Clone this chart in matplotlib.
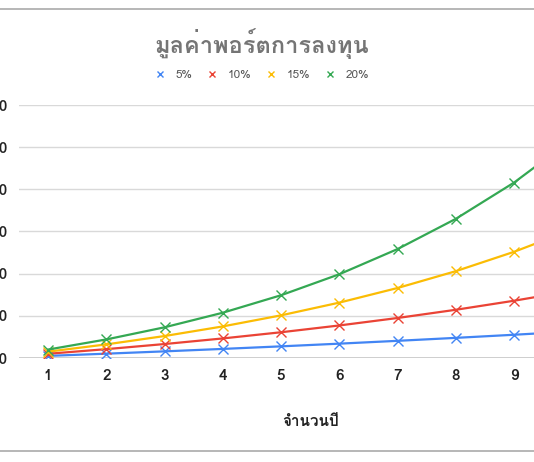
import matplotlib
matplotlib.use("Agg")
import matplotlib.pyplot as plt
from matplotlib import font_manager
from matplotlib.lines import Line2D
from fontTools.ttLib import TTFont

years = [1, 2, 3, 4, 5, 6, 7, 8, 9, 10]
rate_labels = ["5%", "10%", "15%", "20%"]
colors = ["#4285F4", "#EA4335", "#FBBC04", "#34A853"]

# portfolio value (start 100,000)
value_5 = [105000, 110250, 115760, 121550, 127630, 134010, 140710, 147750, 155130, 162890]
value_10 = [110000, 121000, 133100, 146410, 161050, 177160, 194870, 214360, 235790, 259370]
value_15 = [115000, 132250, 152090, 174900, 201140, 231310, 266000, 305900, 351790, 404560]
value_20 = [120000, 144000, 172800, 207360, 248830, 298600, 358320, 429980, 515980, 619170]
series = [value_5, value_10, value_15, value_20]

x_ticks = [1, 2, 3, 4, 5, 6, 7, 8, 9]
y_ticks = [100000, 200000, 300000, 400000, 500000, 600000, 700000]

title_text = "มูลค่าพอร์ตการลงทุน"
xlabel_text = "จำนวนปี"


def find_thai_font():
    # look for any installed font that has Thai glyphs
    for f in font_manager.fontManager.ttflist:
        try:
            cmap = TTFont(f.fname, fontNumber=0, lazy=True).getBestCmap()
        except Exception:
            continue
        if cmap and 0x0E21 in cmap and 0x0E38 in cmap:
            return f.name
    return None


thai = find_thai_font()
families = [thai, "DejaVu Sans"] if thai else ["DejaVu Sans"]
plt.rcParams["font.family"] = families

fig = plt.figure(figsize=(5.34, 4.62), dpi=100)
ax = fig.add_axes([18.9 / 534, 104 / 462, 582.5 / 534, 253 / 462])

for vals, c, lab in zip(series, colors, rate_labels):
    ax.plot(years, vals, color=c, lw=1.6, marker="x", ms=6.5, mew=1.0, label=lab, zorder=3)

ax.set_xlim(0.5, 10.5)
ax.set_ylim(100000, 700000)
ax.set_xticks(x_ticks)
ax.set_yticks(y_ticks)
ax.set_yticklabels([f"{v:,}" for v in y_ticks])
ax.grid(axis="y", color="#d9d9d9", lw=1)
ax.set_axisbelow(True)
for s in ax.spines.values():
    s.set_visible(False)
ax.axhline(100000, color="#c8c8c8", lw=1.2, zorder=2)
ax.tick_params(length=0, labelsize=11, labelcolor="#222222", pad=8)
for t in ax.get_xticklabels() + ax.get_yticklabels():
    t.set_fontweight("bold")

ax.set_xlabel(xlabel_text, fontsize=11, fontweight="bold", color="#222222", labelpad=23)

fig.text(0.49, 0.905, title_text, ha="center", va="center", fontsize=17,
         fontweight="bold", color="#757575")

leg = fig.legend(loc="center", bbox_to_anchor=(0.49, 0.838), ncol=4, frameon=False,
                 fontsize=8.5, handlelength=1.0, handletextpad=0.8, columnspacing=1.2,
                 markerscale=0.75, labelcolor="#555555")
for h in leg.legend_handles:
    h.set_linestyle("none")

# thin gray border lines at top and bottom
fig.add_artist(Line2D([0, 1], [1 - 9 / 462, 1 - 9 / 462], color="#aaaaaa", lw=1.2))
fig.add_artist(Line2D([0, 1], [1 - 451 / 462, 1 - 451 / 462], color="#aaaaaa", lw=1.2))

fig.savefig("out.png", dpi=100)
